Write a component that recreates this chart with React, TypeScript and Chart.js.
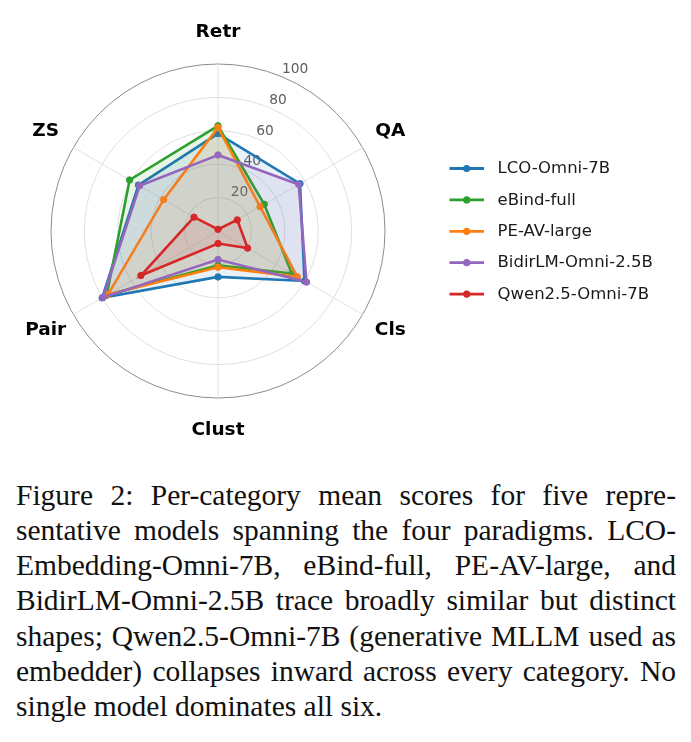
import React, { useEffect, useRef } from "react";
import { Chart, registerables } from "chart.js";

Chart.register(...registerables);

const categories = ["Retr", "QA", "Cls", "Clust", "Pair", "ZS"];
const modelNames = [
  "LCO-Omni-7B",
  "eBind-full",
  "PE-AV-large",
  "BidirLM-Omni-2.5B",
  "Qwen2.5-Omni-7B",
];
const lcoOmni = [58.3, 56.7, 59.8, 27.5, 80.1, 55.0];
const eBindFull = [63.0, 32.0, 51.0, 20.5, 77.0, 61.1];
const peAvLarge = [62.0, 29.1, 54.9, 21.7, 76.0, 37.6];
const bidirLm = [45.5, 55.8, 61.2, 17.1, 79.5, 54.2];
const qwenOmni = [1.0, 13.3, 20.5, 7.5, 53.3, 16.6];
const radialTicks = [20, 40, 60, 80, 100];
const seriesColors = ["#1f77b4", "#2ca02c", "#ff7f0e", "#9467bd", "#d62728"];
const seriesFills = [
  "rgba(31,119,180,0.1)",
  "rgba(44,160,44,0.1)",
  "rgba(255,127,14,0.1)",
  "rgba(148,103,189,0.1)",
  "rgba(214,39,40,0.1)",
];
const captionLines = [
  "Figure 2:  Per-category mean scores for five repre-",
  "sentative models spanning the four paradigms. LCO-",
  "Embedding-Omni-7B, eBind-full, PE-AV-large, and",
  "BidirLM-Omni-2.5B trace broadly similar but distinct",
  "shapes; Qwen2.5-Omni-7B (generative MLLM used as",
  "embedder) collapses inward across every category. No",
  "single model dominates all six.",
];

const seriesValues = [lcoOmni, eBindFull, peAvLarge, bidirLm, qwenOmni];

const overlayPlugin = {
  id: "radarOverlay",
  beforeDatasetsDraw(chart: any) {
    const s = chart.scales.r;
    const ctx = chart.ctx;
    ctx.save();
    ctx.font = "13.8px 'DejaVu Sans'";
    ctx.fillStyle = "#5e5e5e";
    ctx.textAlign = "left";
    ctx.textBaseline = "middle";
    const a = (22.5 * Math.PI) / 180;
    radialTicks.forEach((v) => {
      const r = s.getDistanceFromCenterForValue(v);
      const x = s.xCenter + r * Math.sin(a);
      const y = s.yCenter - r * Math.cos(a);
      ctx.fillText(String(v), x, y - 7.5);
    });
    ctx.restore();
  },
  afterDraw(chart: any) {
    const s = chart.scales.r;
    const ctx = chart.ctx;
    ctx.save();
    // category labels
    ctx.font = "bold 18.5px 'DejaVu Sans'";
    ctx.fillStyle = "#000";
    ctx.textAlign = "center";
    ctx.textBaseline = "middle";
    chart.data.labels.forEach((c: string, i: number) => {
      const p = s.getPointPosition(i, s.drawingArea + 32);
      ctx.fillText(c, p.x, p.y);
    });
    // legend
    ctx.font = "16.5px 'DejaVu Sans'";
    ctx.textAlign = "left";
    chart.data.datasets.forEach((ds: any, i: number) => {
      const y = 168.5 + i * 31.4;
      ctx.strokeStyle = ds.borderColor;
      ctx.lineWidth = 2.8;
      ctx.beginPath();
      ctx.moveTo(449.5, y);
      ctx.lineTo(484, y);
      ctx.stroke();
      ctx.fillStyle = ds.borderColor;
      ctx.beginPath();
      ctx.arc(466.7, y, 3.6, 0, Math.PI * 2);
      ctx.fill();
      ctx.fillStyle = "#1a1a1a";
      ctx.fillText(ds.label, 497.5, y + 0.5);
    });
    ctx.restore();
  },
};

export default function App() {
  const canvasRef = useRef<HTMLCanvasElement | null>(null);

  useEffect(() => {
    if (!canvasRef.current) return;
    const chart = new Chart(canvasRef.current, {
      type: "radar",
      data: {
        labels: categories,
        datasets: modelNames.map((name, i) => ({
          label: name,
          data: seriesValues[i],
          borderColor: seriesColors[i],
          backgroundColor: seriesFills[i],
          pointBackgroundColor: seriesColors[i],
          pointBorderColor: seriesColors[i],
          pointBorderWidth: 1,
          pointRadius: 3.2,
          borderWidth: 2.6,
          fill: true,
          order: modelNames.length - i,
        })),
      },
      options: {
        responsive: false,
        animation: false,
        devicePixelRatio: 1,
        layout: { padding: { left: 18, right: 273, top: 64, bottom: 62 } },
        plugins: {
          legend: { display: false },
          tooltip: { enabled: false },
        },
        scales: {
          r: {
            min: 0,
            max: 100,
            ticks: { display: false, stepSize: 20 },
            pointLabels: { display: false },
            grid: {
              circular: true,
              color: (c: any) =>
                c.tick && c.tick.value === 100 ? "#8c8c8c" : "#dedede",
              lineWidth: 1,
            },
            angleLines: { color: "#e2e2e2", lineWidth: 1 },
          },
        },
      },
      plugins: [overlayPlugin],
    } as any);
    return () => chart.destroy();
  }, []);

  return (
    <div>
      <canvas
        ref={canvasRef}
        width={691}
        height={460}
        style={{ position: "absolute", left: 0, top: 0, display: "block" }}
      />
      <div
        style={{
          position: "absolute",
          left: 16,
          top: 477.5,
          width: 660,
          fontFamily: "'Liberation Serif', 'Times New Roman', serif",
          fontSize: "29.5px",
          lineHeight: "35.3px",
          color: "#111",
        }}
      >
        {captionLines.map((line, i) => (
          <div
            key={i}
            style={{
              whiteSpace: "nowrap",
              textAlign: i === captionLines.length - 1 ? "left" : "justify",
              textAlignLast: i === captionLines.length - 1 ? "left" : "justify",
            }}
          >
            {line}
          </div>
        ))}
      </div>
    </div>
  );
}
